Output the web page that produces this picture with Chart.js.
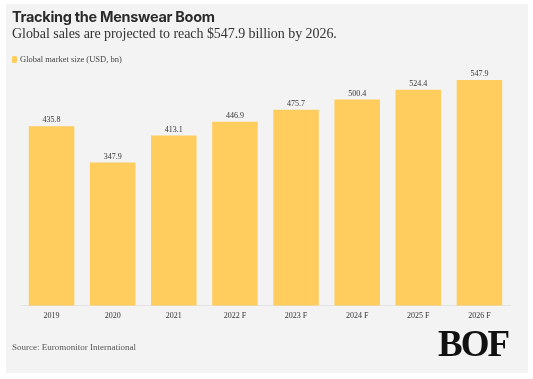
<!DOCTYPE html>
<html>
<head>
<meta charset="utf-8">
<script src="https://cdn.jsdelivr.net/npm/chart.js@4"></script>
<style>
  html, body { margin: 0; padding: 0; background: #fff; }
  body { width: 533px; height: 379px; position: relative; overflow: hidden; }
  #panel { position: absolute; left: 6px; top: 4px; width: 522px; height: 369px; background: #f3f3f3; }
  #grafico { position: absolute; left: 0; top: 0; }
  .txt { position: absolute; white-space: nowrap; color: #2b2b2b; }
  #titulo { left: 12px; top: 8px; font: bold 14.5px "Inter", "Open Sans", sans-serif; letter-spacing: -0.3px; }
  #subtitulo { left: 12px; top: 26px; font: 14px "Liberation Serif", serif; color: #333; letter-spacing: -0.05px; }
  #leyenda { left: 12px; top: 54px; font: 8.5px "Liberation Serif", serif; color: #444; }
  #leyenda i { display: inline-block; width: 5px; height: 7px; border-radius: 1.5px; background: #fecd5d; margin-right: 3px; vertical-align: -1px; }
  #fuente { left: 12px; top: 342px; font: 9px "Liberation Serif", serif; color: #555; }
  #logo { left: 438px; top: 322px; font: bold 37px "Liberation Serif", serif; color: #111; letter-spacing: -2px; }
</style>
</head>
<body>
<div id="panel"></div>
<canvas id="grafico" width="533" height="379"></canvas>
<div class="txt" id="titulo">Tracking the Menswear Boom</div>
<div class="txt" id="subtitulo">Global sales are projected to reach $547.9 billion by 2026.</div>
<div class="txt" id="leyenda"><i></i>Global market size (USD, bn)</div>
<div class="txt" id="fuente">Source: Euromonitor International</div>
<div class="txt" id="logo">BOF</div>
<script>
const anios = ["2019", "2020", "2021", "2022 F", "2023 F", "2024 F", "2025 F", "2026 F"];
const valores = [435.8, 347.9, 413.1, 446.9, 475.7, 500.4, 524.4, 547.9];
const etiquetaSerie = "Global market size (USD, bn)";

// escribe el valor encima de cada barra
const valoresArriba = {
    id: "valoresArriba",
    afterDatasetsDraw(chart) {
        const ctx = chart.ctx;
        const meta = chart.getDatasetMeta(0);
        ctx.save();
        ctx.font = "8px 'Liberation Serif', serif";
        ctx.fillStyle = "#333";
        ctx.textAlign = "center";
        ctx.textBaseline = "bottom";
        meta.data.forEach((barra, i) => {
            ctx.fillText(valores[i].toFixed(1), barra.x, barra.y - 2);
        });
        ctx.restore();
    },
};

new Chart(document.getElementById("grafico"), {
    type: "bar",
    data: {
        labels: anios,
        datasets: [{
            label: etiquetaSerie,
            data: valores,
            backgroundColor: "#fecd5d",
            borderWidth: 0,
            categoryPercentage: 0.745,
            barPercentage: 1,
        }],
    },
    options: {
        responsive: false,
        animation: false,
        layout: { padding: { left: 21, right: 23, top: 58.6, bottom: 53.3 } },
        plugins: { legend: { display: false }, tooltip: { enabled: false } },
        scales: {
            x: {
                grid: { display: false, drawTicks: false },
                border: { display: true, color: "#e4e4e4" },
                ticks: { color: "#333", font: { family: "Liberation Serif", size: 8 }, padding: 5, maxRotation: 0 },
                afterFit(scale) { scale.height = 20; },
            },
            y: { display: false, min: 0, max: 600 },
        },
    },
    plugins: [valoresArriba],
});
</script>
</body>
</html>
